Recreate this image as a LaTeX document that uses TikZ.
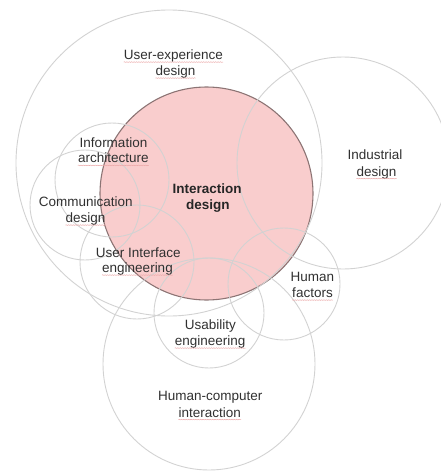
\documentclass[tikz,border=0pt]{standalone}
\usepackage{fontspec}
\setmainfont{Liberation Sans}
\usetikzlibrary{decorations.pathmorphing}
\definecolor{ringgrey}{HTML}{D2D2D2}
\definecolor{coreedge}{HTML}{8C7474}
\definecolor{corefill}{HTML}{F9CDCD}
\definecolor{inkgrey}{HTML}{303030}
\definecolor{spellred}{HTML}{EBA8A8}
\tikzset{
  ring/.style={circle, draw=ringgrey, line width=0.9pt, inner sep=0pt, minimum size=#1},
  core/.style={circle, draw=coreedge, fill=corefill, line width=1.1pt, inner sep=0pt, minimum size=#1},
  lbl/.style={anchor=base, inner sep=0pt, text=inkgrey, font=\fontsize{13.5pt}{16pt}\selectfont},
  boldlbl/.style={lbl, font=\fontsize{13.5pt}{16pt}\selectfont\bfseries, text=black!85},
  spell/.style={draw=spellred, line width=0.5pt, decorate,
    decoration={snake, amplitude=0.35pt, segment length=2.4pt}},
}
\newcommand{\spellmark}[1]{\draw[spell] ([yshift=-2.6pt]#1.base west) -- ([yshift=-2.6pt]#1.base east);}
\begin{document}
\begin{tikzpicture}[x=1pt, y=-1pt]
  \useasboundingbox (0,0) rectangle (441,471);
  % shaded core area
  \node[core=213pt] (ixd) at (206.5,193.5) {};
  % surrounding disciplines
  \node[ring=306pt] (uxd) at (169,163) {};
  \node[ring=212pt] (ind) at (343,163) {};
  \node[ring=114pt] (ia)  at (112,180) {};
  \node[ring=110pt] (cd)  at (85,205) {};
  \node[ring=114pt] (uie) at (137,262) {};
  \node[ring=112pt] (hf)  at (284,284) {};
  \node[ring=110pt] (ue)  at (209,313) {};
  \node[ring=212pt] (hci) at (209,364) {};

  % labels
  \node[lbl] (uxa) at (173.5,59.5) {User-experience};
  \node[lbl] (uxb) at (175.5,75.5) {design};
  \node[lbl] (iaa) at (113.5,147.5) {Information};
  \node[lbl] (iab) at (113.3,162.8) {architecture};
  \node[lbl] (cda) at (85.8,206.5) {Communication};
  \node[lbl] (cdb) at (85.5,222.5) {design};
  \node[boldlbl] (ixa) at (207.2,193.5) {Interaction};
  \node[boldlbl] (ixb) at (207.8,209.5) {design};
  \node[lbl] (inda) at (375,159.5) {Industrial};
  \node[lbl] (indb) at (376.5,176) {design};
  \node[lbl] (uia) at (138.3,257.5) {User Interface};
  \node[lbl] (uib) at (137.5,272.5) {engineering};
  \node[lbl] (hfa) at (312.5,281) {Human};
  \node[lbl] (hfb) at (312.5,297.5) {factors};
  \node[lbl] (uea) at (210.3,329.5) {Usability};
  \node[lbl] (ueb) at (210.2,345.5) {engineering};
  \node[lbl] (hcia) at (210.3,400) {Human-computer};
  \node[lbl] (hcib) at (209.7,417) {interaction};

  % spell-check marks under words
  \spellmark{uxa}
  \spellmark{uxb}
  \spellmark{iab}
  \spellmark{cdb}
  \spellmark{uib}
  \spellmark{indb}
  \spellmark{hfb}
  \spellmark{ueb}
  \spellmark{hcib}
\end{tikzpicture}
\end{document}
